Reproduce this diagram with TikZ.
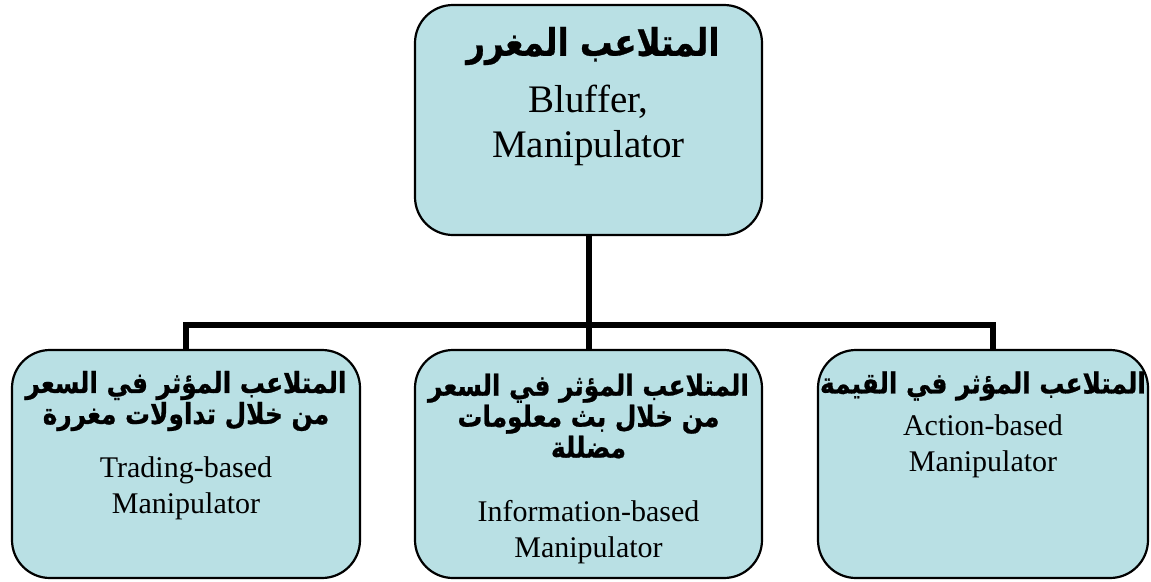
\documentclass[tikz,border=0pt]{standalone}
\usepackage{graphicx}
\usepackage{fontspec}
\setmainfont{Liberation Serif}
\newfontfamily\arabicfont[Script=Arabic, BoldFeatures={FakeBold=0.8}]{DejaVu Sans}
\TeXXeTstate=1
\definecolor{boxfill}{RGB}{185,224,228}
\newcommand\arline[1]{\scalebox{0.855}[1]{\beginR #1\endR}}
\begin{document}
\begin{tikzpicture}[x=1pt,y=-1pt,
  box/.style={draw=black, line width=2.2pt, fill=boxfill, rounded corners=38pt, inner sep=0pt},
  conn/.style={draw=black, line width=6pt, line join=miter},
  ar/.style={font=\arabicfont\bfseries\fontsize{29}{31}\selectfont, align=center, inner sep=0pt},
  artop/.style={font=\arabicfont\bfseries\fontsize{38}{40}\selectfont, align=center, inner sep=0pt},
  en/.style={font=\fontsize{30}{36}\selectfont, align=center, inner sep=0pt},
  entop/.style={font=\fontsize{39}{45}\selectfont, align=center, inner sep=0pt}]
\useasboundingbox (0,0) rectangle (1151,581);
% boxes
\node[box, minimum width=347pt, minimum height=230pt] (top) at (588.5,120) {};
\node[box, minimum width=348pt, minimum height=228pt] (left) at (186,464) {};
\node[box, minimum width=347pt, minimum height=228pt] (mid) at (588.5,464) {};
\node[box, minimum width=330pt, minimum height=228pt] (right) at (983,464) {};
% junctions
\coordinate (jl) at (186,325);
\coordinate (jm) at (588.5,325);
\coordinate (jr) at (993,325);
% connectors
\draw[conn] (left.north) -- (jl) -- (jr) -- (jr |- right.north);
\draw[conn] (top.south) -- (jm) -- (mid.north);
% texts
\node[artop] (ta) at (593,46) {\arline{المتلاعب المغرر}};
\node[entop] (te) at (588.5,125) {Bluffer,\\Manipulator};
\node[ar] (la) at (186,401) {\arline{المتلاعب المؤثر في السعر}\\\arline{من خلال تداولات مغررة}};
\node[en] (le) at (186,488) {Trading-based\\Manipulator};
\node[ar] (ma) at (588.5,416) {\arline{المتلاعب المؤثر في السعر}\\\arline{من خلال بث معلومات}\\\arline{مضللة}};
\node[en] (me) at (588.5,532) {Information-based\\Manipulator};
\node[ar] (ra) at (983,386) {\arline{المتلاعب المؤثر في القيمة}};
\node[en] (re) at (983,446) {Action-based\\Manipulator};
\end{tikzpicture}
\end{document}
